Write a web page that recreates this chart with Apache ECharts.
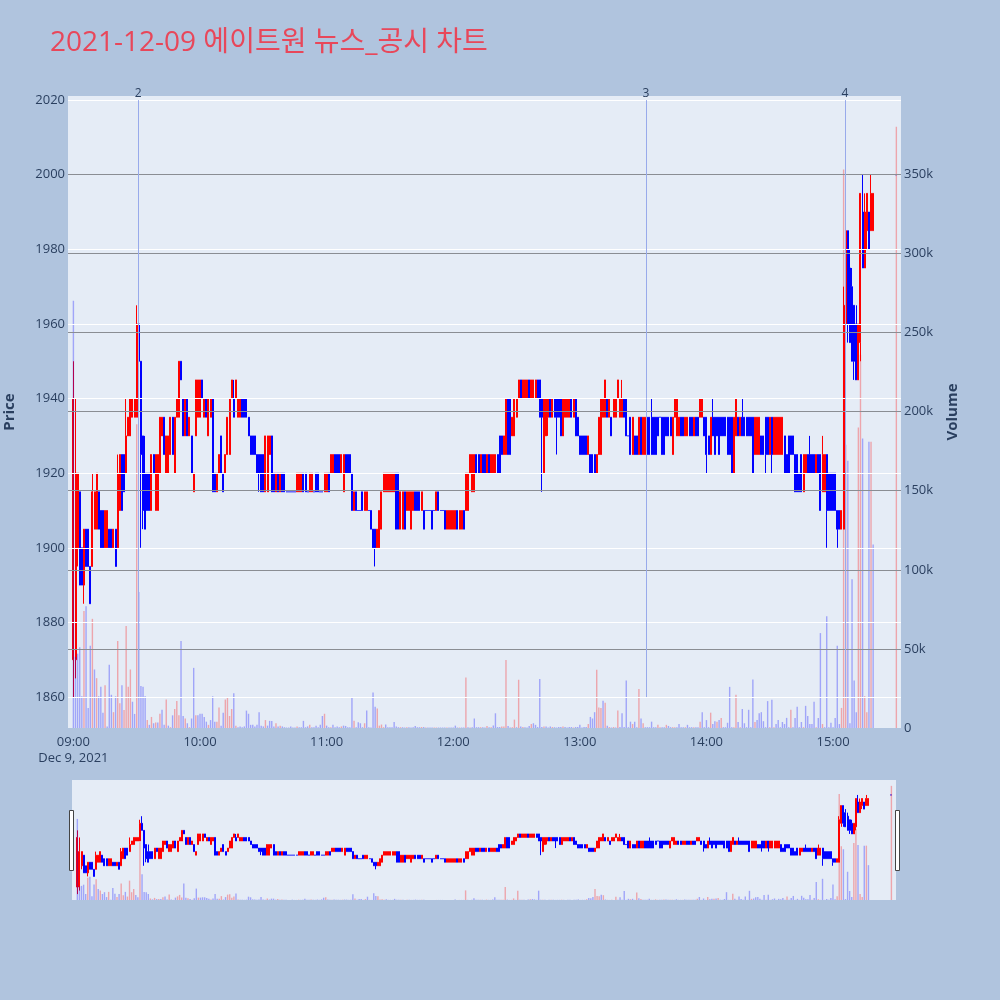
<!DOCTYPE html>
<html><head><meta charset="utf-8">
<script src="https://cdn.jsdelivr.net/npm/echarts@6/dist/echarts.min.js"></script>
<style>html,body{margin:0;padding:0;background:#b0c4de}#c{width:1000px;height:1000px}</style>
</head><body><div id="c"></div><script>
const titleText = '2021-12-09 에이트원 뉴스_공시 차트';
const dateLabel = 'Dec 9, 2021';
const hourLabels = ['09:00','10:00','11:00','12:00','13:00','14:00','15:00'];
const priceTicks = [1860,1880,1900,1920,1940,1960,1980,2000,2020];
const volumeTicks = [0,50,100,150,200,250,300,350];
const newsTimes = ['09:30:45','13:31:20','15:05:40'];
const newsLabels = ['2','3','4'];
const closingAuctionTime = '15:30';

const open = [
1870,1870,1900,1915,1900,1890,1905,1905,1895,1895,1905,1905,1915,1910,1910,1900,1900,1905,1905,1900,
1905,1900,1910,1925,1925,1920,1930,1930,1935,1935,1935,1960,1950,1930,1920,1920,1920,1910,1925,1910,
1910,1920,1930,1935,1920,1920,1925,1935,1920,1935,1935,1950,1940,1930,1940,1930,1930,1915,1930,1935,
1935,1945,1935,1940,1930,1935,1940,1920,1915,1920,1930,1920,1920,1925,1925,1940,1940,1940,1935,1935,
1940,1940,1940,1935,1930,1930,1930,1925,1925,1925,1925,1915,1915,1925,1930,1920,1915,1920,1915,1920,
1920,1915,1915,1915,1915,1915,1915,1915,1915,1920,1920,1915,1915,1915,1915,1920,1920,1915,1915,1915,
1915,1920,1920,1920,1925,1925,1925,1920,1915,1925,1925,1925,1920,1910,1915,1910,1910,1915,1910,1910,
1910,1910,1905,1905,1900,1900,1905,1915,1915,1915,1915,1915,1915,1920,1920,1905,1905,1915,1910,1910,
1905,1910,1915,1915,1915,1910,1910,1910,1910,1910,1910,1910,1910,1915,1910,1910,1910,1905,1905,1905,
1905,1905,1910,1905,1905,1910,1910,1910,1920,1915,1915,1925,1925,1920,1925,1925,1920,1925,1920,1920,
1920,1925,1930,1930,1925,1925,1940,1940,1930,1930,1935,1940,1945,1940,1940,1940,1945,1940,1940,1940,
1945,1945,1940,1920,1930,1935,1940,1935,1940,1940,1940,1940,1930,1935,1935,1935,1940,1935,1940,1935,
1930,1930,1930,1930,1925,1925,1925,1925,1920,1925,1925,1935,1935,1940,1935,1935,1935,1935,1940,1935,
1935,1940,1940,1930,1935,1925,1930,1930,1925,1935,1925,1925,1935,1935,1935,1935,1935,1935,1935,1935,
1935,1935,1935,1935,1925,1935,1930,1930,1935,1935,1930,1930,1935,1935,1930,1935,1935,1935,1935,1935,
1935,1930,1925,1935,1935,1935,1935,1935,1935,1935,1935,1935,1935,1920,1930,1935,1930,1935,1935,1935,
1935,1935,1935,1925,1925,1925,1930,1930,1935,1935,1925,1935,1925,1925,1925,1925,1925,1930,1925,1930,
1930,1930,1925,1925,1920,1925,1915,1920,1925,1925,1925,1925,1920,1925,1925,1915,1915,1925,1920,1920,
1920,1920,1910,1910,1905,1905,1960,1985,1975,1970,1965,1960,1945,1955,1990,1975,1985,1990,1985,1985,
2000];
const close = [
1940,1920,1920,1890,1890,1905,1895,1895,1885,1915,1915,1920,1905,1900,1900,1910,1910,1900,1900,1905,
1895,1920,1925,1910,1915,1930,1935,1940,1940,1940,1960,1950,1925,1910,1905,1910,1910,1925,1920,1925,
1925,1935,1935,1925,1930,1930,1935,1925,1935,1940,1950,1945,1930,1940,1930,1935,1920,1920,1945,1945,
1945,1940,1940,1935,1940,1940,1915,1915,1920,1925,1920,1915,1925,1935,1940,1945,1935,1945,1940,1940,
1935,1935,1935,1930,1925,1925,1925,1920,1920,1915,1915,1930,1930,1930,1915,1915,1920,1915,1920,1915,
1915,1915,1915,1915,1915,1915,1920,1920,1920,1915,1915,1915,1920,1920,1915,1915,1915,1915,1915,1920,
1920,1915,1925,1925,1920,1920,1920,1925,1925,1920,1920,1920,1910,1915,1910,1910,1910,1910,1915,1915,
1910,1905,1900,1900,1905,1910,1915,1920,1920,1920,1920,1920,1920,1905,1905,1915,1915,1905,1915,1915,
1915,1915,1910,1910,1910,1915,1905,1910,1910,1910,1905,1910,1915,1910,1910,1910,1905,1910,1910,1910,
1910,1910,1905,1910,1910,1905,1920,1920,1925,1925,1925,1920,1920,1925,1920,1920,1925,1920,1925,1925,
1925,1920,1920,1925,1930,1940,1925,1925,1935,1940,1940,1945,1940,1945,1945,1945,1940,1945,1945,1945,
1940,1935,1935,1940,1940,1940,1935,1940,1935,1935,1935,1930,1940,1940,1940,1940,1935,1940,1930,1930,
1925,1925,1925,1925,1930,1920,1920,1920,1925,1935,1940,1940,1945,1935,1940,1930,1940,1940,1945,1940,
1940,1935,1930,1930,1925,1935,1925,1925,1935,1925,1935,1935,1925,1925,1925,1925,1925,1930,1935,1925,
1925,1930,1930,1930,1935,1940,1940,1935,1930,1930,1935,1935,1930,1930,1935,1930,1930,1940,1940,1930,
1925,1925,1935,1930,1925,1930,1925,1930,1930,1930,1925,1925,1920,1935,1940,1930,1935,1930,1930,1930,
1930,1930,1920,1935,1935,1935,1925,1925,1925,1925,1935,1925,1935,1935,1935,1935,1935,1920,1920,1920,
1925,1925,1915,1915,1915,1915,1925,1925,1920,1920,1920,1920,1925,1920,1910,1925,1925,1910,1910,1910,
1910,1910,1905,1905,1910,1965,1985,1960,1955,1950,1950,1945,1960,1995,1975,1990,1995,1980,1995,1995,
2000];
const high = [
1950,1940,1920,1915,1900,1905,1905,1905,1895,1920,1915,1920,1915,1910,1910,1910,1910,1905,1905,1905,
1905,1925,1925,1925,1925,1940,1935,1940,1940,1940,1965,1970,1950,1930,1930,1920,1920,1925,1925,1925,
1925,1935,1935,1935,1930,1930,1935,1935,1935,1940,1950,1950,1940,1940,1940,1935,1930,1920,1945,1945,
1945,1945,1940,1940,1940,1940,1940,1920,1920,1925,1930,1920,1925,1935,1940,1945,1945,1945,1940,1940,
1940,1940,1940,1935,1930,1930,1930,1925,1925,1925,1925,1930,1930,1930,1930,1920,1920,1920,1920,1920,
1920,1915,1915,1915,1915,1915,1920,1920,1920,1920,1920,1915,1920,1920,1915,1920,1920,1915,1915,1920,
1920,1920,1925,1925,1925,1925,1925,1925,1925,1925,1925,1925,1920,1915,1915,1910,1910,1915,1915,1915,
1910,1910,1905,1905,1905,1910,1915,1920,1920,1920,1920,1920,1920,1920,1920,1915,1915,1915,1915,1915,
1915,1915,1915,1915,1915,1915,1910,1910,1910,1910,1910,1910,1915,1915,1910,1910,1910,1910,1910,1910,
1910,1910,1910,1910,1910,1910,1920,1920,1925,1925,1925,1925,1925,1925,1925,1925,1925,1925,1925,1925,
1925,1925,1930,1930,1930,1940,1940,1940,1935,1940,1940,1945,1945,1945,1945,1945,1945,1945,1945,1945,
1945,1945,1940,1940,1940,1940,1940,1940,1940,1940,1940,1940,1940,1940,1940,1940,1940,1940,1940,1935,
1930,1930,1930,1930,1930,1925,1925,1925,1925,1935,1940,1940,1945,1940,1940,1935,1940,1940,1945,1940,
1945,1940,1940,1930,1935,1935,1930,1930,1935,1935,1935,1935,1935,1935,1940,1935,1935,1935,1935,1935,
1935,1935,1935,1935,1935,1940,1940,1935,1935,1935,1935,1935,1935,1935,1935,1935,1935,1940,1940,1935,
1935,1930,1935,1940,1935,1935,1935,1935,1935,1935,1935,1935,1935,1935,1940,1935,1935,1940,1935,1935,
1935,1935,1935,1935,1935,1935,1930,1930,1935,1935,1935,1935,1935,1935,1935,1935,1935,1930,1925,1930,
1930,1930,1925,1925,1920,1925,1925,1925,1925,1930,1925,1925,1925,1925,1925,1930,1925,1925,1920,1920,
1920,1920,1910,1910,1910,1970,1985,1985,1980,1975,1965,1965,1960,1995,2000,1995,1995,1990,2000,1995,
2000];
const low = [
1860,1865,1895,1890,1890,1885,1895,1895,1885,1895,1905,1905,1905,1900,1900,1900,1900,1900,1900,1900,
1895,1900,1910,1910,1915,1920,1930,1930,1935,1935,1935,1950,1900,1905,1905,1910,1910,1910,1920,1910,
1910,1920,1930,1925,1920,1920,1925,1925,1920,1935,1935,1945,1930,1930,1930,1930,1920,1915,1930,1935,
1935,1940,1935,1935,1930,1935,1915,1915,1915,1920,1920,1915,1920,1925,1925,1940,1935,1940,1935,1935,
1935,1935,1935,1930,1925,1925,1925,1920,1915,1915,1915,1915,1915,1925,1915,1915,1915,1915,1915,1915,
1915,1915,1915,1915,1915,1915,1915,1915,1915,1915,1915,1915,1915,1915,1915,1915,1915,1915,1915,1915,
1915,1915,1920,1920,1920,1920,1920,1920,1915,1920,1920,1920,1910,1910,1910,1910,1910,1910,1910,1910,
1910,1905,1900,1895,1900,1900,1905,1915,1915,1915,1915,1915,1915,1905,1905,1905,1905,1905,1910,1910,
1905,1910,1910,1910,1910,1910,1905,1910,1910,1910,1905,1910,1910,1910,1910,1910,1905,1905,1905,1905,
1905,1905,1905,1905,1905,1905,1910,1910,1920,1915,1915,1920,1920,1920,1920,1920,1920,1920,1920,1920,
1920,1920,1920,1925,1925,1925,1925,1925,1930,1930,1935,1940,1940,1940,1940,1940,1940,1940,1940,1940,
1940,1935,1915,1920,1930,1930,1935,1935,1935,1925,1935,1930,1930,1935,1935,1935,1935,1935,1930,1930,
1925,1925,1925,1925,1925,1920,1920,1920,1920,1925,1925,1935,1935,1935,1935,1930,1935,1935,1940,1935,
1935,1935,1930,1930,1925,1925,1925,1925,1925,1925,1925,1925,1925,1925,1925,1925,1925,1930,1935,1925,
1925,1930,1930,1930,1925,1935,1930,1930,1930,1930,1930,1930,1930,1930,1930,1930,1930,1935,1935,1930,
1920,1925,1925,1930,1925,1930,1925,1930,1930,1930,1925,1925,1920,1920,1930,1930,1930,1930,1930,1930,
1930,1930,1920,1925,1925,1925,1925,1925,1920,1925,1925,1920,1925,1925,1925,1925,1925,1920,1920,1920,
1925,1925,1915,1915,1915,1915,1915,1920,1920,1920,1920,1920,1920,1920,1910,1915,1915,1900,1910,1910,
1910,1910,1900,1905,1905,1905,1955,1955,1955,1950,1945,1945,1945,1950,1975,1975,1980,1980,1985,1985,
2000];
// volume in thousands of shares
const volumeK = [
270,45,47,51,20,74,77,12.6,52,69,37,31.5,20,26,9.7,27,1,40,21,10,
20,55,15.7,27,11.4,64.5,26,37,16.6,8.9,192,86,26.6,26,20,5,2,7,3,3.5,
3.5,9,11.6,2,18,1.5,0.5,8,12,17,8,55,7.6,6,3,0.5,6,38,8,8,
9,9,7,4,2,5,20,4,4,13,1.5,9.7,18,19,7.6,12,22,1.5,0.5,1,
0.5,1,11,9,2,2,1,2,10,1.5,1,5,1.5,4.5,4.5,1,3,1,1.5,1,
0.5,0.3,0.3,1,0.3,0.3,1,0.5,0.5,4.5,0.5,1,2,0.5,0.5,1.5,0.5,2,7.6,9,
1.5,0.5,0.5,2,0.5,1,0.5,1,1.5,1.3,0.5,0.5,19.5,4.6,0.5,3.6,3,0.5,3,11,
0.5,0.3,22.4,13.5,12.3,1.5,2.2,0.5,2.2,0.5,0.5,0.5,3.8,1,0.5,0.5,0.5,0.3,0.5,0.5,
0.3,0.5,1.3,0.5,0.5,0.6,0.6,0.3,0.3,0.3,0.3,0.3,0.3,0.3,0.3,0.3,0.3,0.3,0.3,0.3,
0.3,1.5,0.3,0.3,0.3,0.3,32,0.5,0.3,0.5,6,0.5,0.5,0.5,0.5,0.3,1.3,0.5,0.5,1.6,
9.3,0.6,0.6,1,1,43,1.3,0.3,0.5,5.3,0.5,30.5,1,0.6,0.5,0.3,1.3,2.5,3,2,
0.6,31,0.6,1,1,0.3,1,0.6,0.5,0.3,0.6,0.6,1,0.6,0.3,0.6,0.6,0.3,0.6,0.6,
2,0.3,0.6,0.6,2.5,7,6,10,36.8,13,12.7,17.3,16,1.5,0.6,0.3,0.6,0.3,11,0.6,
9.3,0.6,30,0.5,4,2.5,4,0.5,24.7,6,3,0.5,0.5,0.5,4,0.5,0.5,2,0.5,0.5,
0.5,2,1.3,0.5,0.5,0.5,0.5,2.5,0.5,0.5,0.5,2,0.5,0.5,0.5,0.5,0.5,4,10,0.5,
5,0.5,9.7,2.5,4.3,4,5,6.4,0.5,0.5,3.3,26,0.5,0.5,21,3.8,0.5,12,3,0.5,
11.5,0.5,30.6,3.8,5,9.4,10,4.3,0.5,17,0.5,17.8,0.5,2.5,5,0.5,3.8,2.5,6.4,0.5,
11.5,0.5,6.4,13.5,0.5,3.8,0.5,14,7.6,2.5,2.5,16.6,0.5,6.4,60,2.5,0.5,70.6,0.5,3.3,
0.5,6.4,52,2.5,12.7,353,179,169,3,94,30,10,190,236,183,20,10,181,181,116,
380];

// ---- helpers (time strings -> minutes after session open) ----
function toMin(t){const p=t.split(':').map(Number);return (p[0]-9)*60+p[1]+(p[2]||0)/60;}
const times = open.map((_, i) => i < open.length - 1 ? i : toMin(closingAuctionTime));
const hourValues = hourLabels.map(toMin);

const UP='#ff0000', DOWN='#0000ff';
const candleData = open.map((o,i)=>{
  const c = close[i] > o ? UP : DOWN;
  return {value:[times[i], o, close[i], low[i], high[i]],
    itemStyle:{color:c,color0:c,borderColor:c,borderColor0:c,borderColorDoji:c}};
});
const volData = volumeK.map((v,i)=>{
  const up = i > 0 && close[i] > close[i-1];
  return {value:[times[i], v], itemStyle:{color: up ? 'rgba(255,0,0,0.3)' : 'rgba(0,0,255,0.3)'}};
});

const X_MIN=-2.56, X_MAX=392.2, P_MIN=1851.7, P_MAX=2021.1, V_MAX=399.5;
const font='"Open Sans", "Noto Sans CJK KR", sans-serif';
const txt='#2a3f5f';

const chart = echarts.init(document.getElementById('c'), null, {renderer:'canvas'});
chart.setOption({
  animation:false,
  backgroundColor:'#b0c4de',
  title:{text:titleText,left:45,top:21,textStyle:{color:'#e8475a',fontSize:28,fontWeight:'normal',fontFamily:font,lineHeight:34}},
  grid:[
    {left:68,top:96,width:833,height:632,show:true,backgroundColor:'#e5ecf6',borderWidth:0,containLabel:false,outerBoundsMode:'none'},
    {left:72,top:780,width:824,height:120,show:true,backgroundColor:'#e5ecf6',borderWidth:0,containLabel:false,outerBoundsMode:'none'}
  ],
  xAxis:[
    {type:'value',gridIndex:0,min:X_MIN,max:X_MAX,
     axisLine:{show:false},axisTick:{show:false},splitLine:{show:false},
     axisLabel:{customValues:hourValues,color:txt,fontSize:13,fontFamily:font,margin:6,lineHeight:16,
       formatter:(v)=>{const k=hourValues.indexOf(v);return k===0?hourLabels[0]+'\n'+dateLabel:(hourLabels[k]||'');}}},
    {type:'value',gridIndex:1,min:X_MIN,max:X_MAX,show:false}
  ],
  yAxis:[
    {type:'value',gridIndex:0,position:'left',min:P_MIN,max:P_MAX,
     axisLine:{show:false},axisTick:{show:false},splitLine:{show:false},
     axisLabel:{customValues:priceTicks,color:txt,fontSize:13,fontFamily:font,margin:3,formatter:(v)=>String(v)},
     name:'Price',nameLocation:'middle',nameGap:51,nameRotate:90,
     nameTextStyle:{color:txt,fontSize:15,fontWeight:'bold',fontFamily:font}},
    {type:'value',gridIndex:0,position:'right',min:0,max:V_MAX,
     axisLine:{show:false},axisTick:{show:false},splitLine:{show:false},
     axisLabel:{customValues:volumeTicks,color:txt,fontSize:13,fontFamily:font,margin:3,
       formatter:(v)=>v===0?'0':v+'k'},
     name:'Volume',nameLocation:'middle',nameGap:44,nameRotate:90,
     nameTextStyle:{color:txt,fontSize:15,fontWeight:'bold',fontFamily:font}},
    {type:'value',gridIndex:1,min:P_MIN,max:P_MAX,show:false},
    {type:'value',gridIndex:1,min:0,max:V_MAX,show:false}
  ],
  series:[
    {type:'line',xAxisIndex:0,yAxisIndex:0,data:[],z:1,silent:true,
     markLine:{silent:true,symbol:'none',label:{show:false},animation:false,
       lineStyle:{color:'#ffffff',width:1.2,type:'solid'},
       data:priceTicks.map(v=>({yAxis:v}))}},
    {type:'line',xAxisIndex:0,yAxisIndex:1,data:[],z:1,silent:true,
     markLine:{silent:true,symbol:'none',label:{show:false},animation:false,
       lineStyle:{color:'#8a8d93',width:1.2,type:'solid'},
       data:volumeTicks.slice(1).map(v=>({yAxis:v}))}},
    {type:'line',xAxisIndex:0,yAxisIndex:0,data:[],z:1,silent:true,
     markLine:{silent:true,symbol:'none',animation:false,
       lineStyle:{color:'#98aaeb',opacity:1,width:1,type:'solid'},
       emphasis:{disabled:true},
       label:{show:true,position:'end',distance:1,color:txt,fontSize:12,fontFamily:font,
         formatter:(p)=>newsLabels[p.dataIndex]},
       data:newsTimes.map(t=>[{coord:[toMin(t),1860],lineStyle:{color:'#98aaeb'}},{coord:[toMin(t),2020]}])}},
    {type:'candlestick',xAxisIndex:0,yAxisIndex:0,z:2,barWidth:1.5,data:candleData,
     itemStyle:{color:UP,color0:DOWN,borderColor:UP,borderColor0:DOWN,borderColorDoji:DOWN,borderWidth:1}},
    {type:'bar',xAxisIndex:0,yAxisIndex:1,z:3,barWidth:1.4,data:volData},
    {type:'candlestick',xAxisIndex:1,yAxisIndex:2,z:2,barWidth:1.5,data:candleData,silent:true,
     itemStyle:{color:UP,color0:DOWN,borderColor:UP,borderColor0:DOWN,borderColorDoji:DOWN,borderWidth:1}},
    {type:'bar',xAxisIndex:1,yAxisIndex:3,z:3,barWidth:1.4,data:volData,silent:true}
  ],
  graphic:[
    {type:'rect',left:69,top:810,shape:{width:4,height:60},style:{fill:'#ffffff',stroke:'#444',lineWidth:1},z:10},
    {type:'rect',left:895,top:810,shape:{width:4,height:60},style:{fill:'#ffffff',stroke:'#444',lineWidth:1},z:10}
  ]
});
</script></body></html>
